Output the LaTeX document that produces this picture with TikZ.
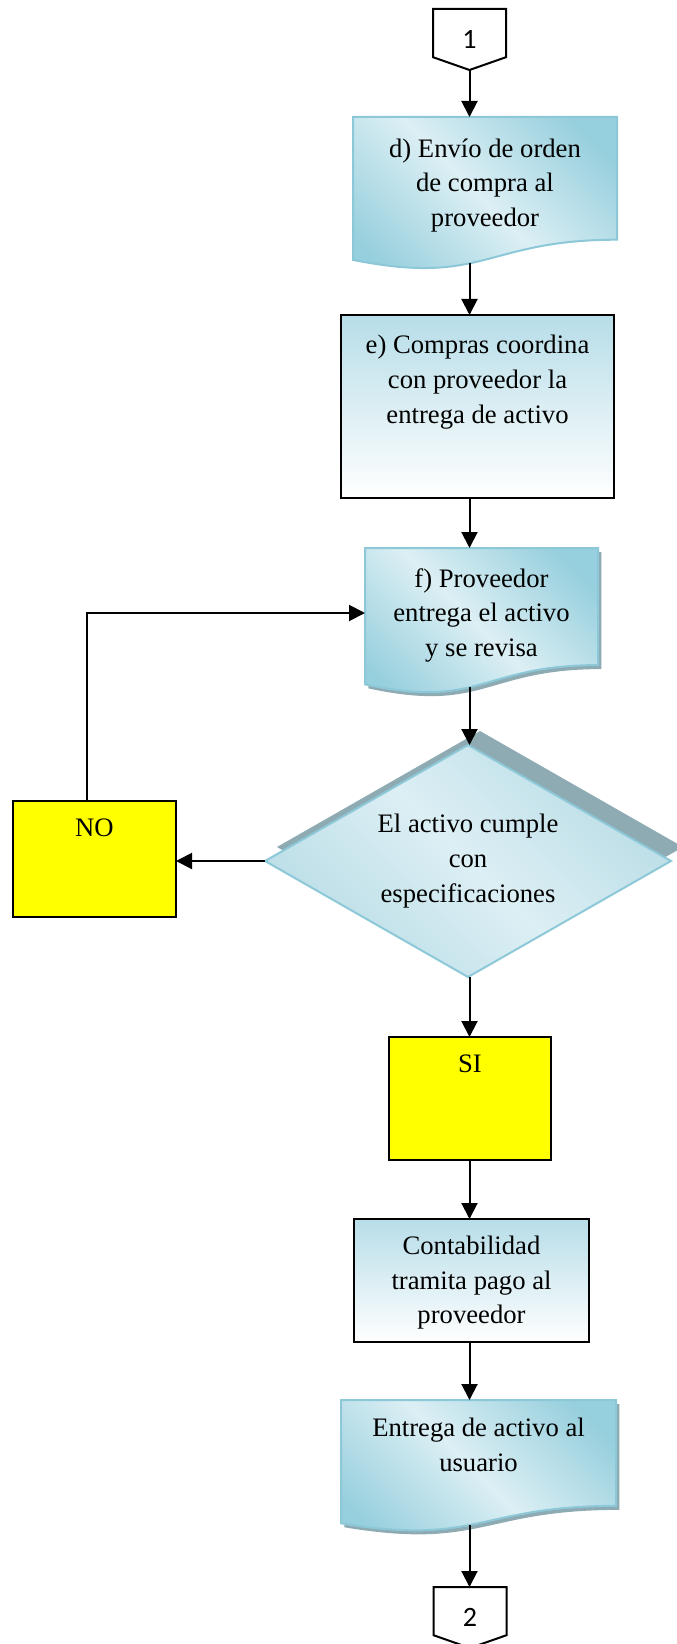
\documentclass[tikz,border=0pt]{standalone}
\usepackage{fontspec}
\setmainfont{Liberation Serif}
\newfontfamily\connfont{Carlito}
\usepackage{tikz}
\usetikzlibrary{positioning, calc, shapes.geometric, shadows, backgrounds}
\usetikzlibrary{arrows.meta}
\tikzset{>=Triangle}
\usepackage{xcolor}

\definecolor{aquadark}{RGB}{150,207,221}
\definecolor{aqualight}{RGB}{220,239,244}
\definecolor{aquaedge}{RGB}{140,200,216}
\definecolor{boxtop}{RGB}{183,221,232}
\definecolor{diadark}{RGB}{182,219,229}
\definecolor{shadowgrey}{RGB}{142,170,178}
\definecolor{ansyellow}{RGB}{255,255,0}

\pgfdeclarehorizontalshading{aquadiag}{100bp}{color(0bp)=(aquadark); color(22bp)=(aquadark); color(50bp)=(aqualight); color(78bp)=(aquadark); color(100bp)=(aquadark)}
\pgfdeclarehorizontalshading{diadiag}{100bp}{color(0bp)=(diadark); color(22bp)=(diadark); color(50bp)=(aqualight); color(78bp)=(diadark); color(100bp)=(diadark)}

\newdimen\pxu \pxu=0.75pt

\tikzset{
  txt/.style={align=center, inner sep=0pt, font=\fontsize{20}{26}\selectfont},
  flow/.style={-{Triangle[length=12pt,width=12pt]}, line width=1.5pt},
  fromdoc/.style={shorten <=-5pt},
  procbox/.style={draw=black, line width=1.5pt, top color=boxtop, bottom color=white, inner sep=0pt, outer sep=0pt},
  answer/.style={draw=black, line width=1.5pt, fill=ansyellow, inner sep=0pt, outer sep=0pt},
  docnode/.style={inner sep=0pt, outer sep=0pt},
  docbody/.style={draw=aquaedge, line width=1.5pt, shading=aquadiag, shading angle=45},
  docshadow/.style={drop shadow={shadow xshift=2.5pt, shadow yshift=-3pt, opacity=1, fill=shadowgrey}},
  decision/.style={diamond, aspect=1.75, draw=aquaedge, line width=1.5pt, shading=diadiag, shading angle=45,
    inner sep=0pt, outer sep=0pt, align=center, font=\fontsize{20}{26}\selectfont,
    drop shadow={shadow xshift=9pt, shadow yshift=10.5pt, opacity=1, fill=shadowgrey}},
  offpage/.style={inner sep=0pt, outer sep=0pt, font=\connfont\fontsize{21}{25}\selectfont},
  offline/.style={draw=black, line width=1.5pt, line join=miter},
}

% document symbol with wavy bottom around a node
\newcommand{\docshape}[2][]{%
  \path[docbody,#1] (#2.north west) -- (#2.north east)
    -- ($(#2.north east)!0.802!(#2.south east)$)
    .. controls ($(#2.north)!0.802!(#2.south)$) and ($(#2.north)!1.1075!(#2.south)$)
    .. ($(#2.north west)!0.934!(#2.south west)$) -- cycle;}
% off-page connector
\newcommand{\offshape}[1]{%
  \draw[offline] (#1.north west) -- (#1.north east) -- ($(#1.north east)!0.79!(#1.south east)$)
    -- (#1.south) -- ($(#1.north west)!0.79!(#1.south west)$) -- cycle;}

\begin{document}
\begin{tikzpicture}[x=0.75pt, y=-0.75pt]
\useasboundingbox (0,0) rectangle (676,1644);

\node[offpage, minimum width=73\pxu, minimum height=61\pxu] (c1) at (469.5,39.5) {1};
\node[docnode, minimum width=264\pxu, minimum height=153\pxu] (d) at (485,193.5) {};
\node[txt, below=16pt of d.north] (d-t) {d) Envío de orden\\de compra al\\proveedor};
\node[procbox, minimum width=273\pxu, minimum height=183\pxu] (e) at (477.5,406.5) {};
\node[txt, below=15pt of e.north] (e-t) {e) Compras coordina\\con proveedor la\\entrega de activo};
\node[docnode, minimum width=233\pxu, minimum height=146\pxu] (f) at (481.5,621) {};
\node[txt, below=15pt of f.north] (f-t) {f) Proveedor\\entrega el activo\\y se revisa};
\node[decision, minimum width=406\pxu, minimum height=232\pxu] (dec) at (468,861) {El activo cumple\\con\\especificaciones};
\node[answer, minimum width=163\pxu, minimum height=116\pxu] (no) at (94.5,859) {};
\node[txt, below=13.5pt of no.north] (no-t) {NO};
\node[answer, minimum width=162\pxu, minimum height=123\pxu] (si) at (470,1098.5) {};
\node[txt, below=13.5pt of si.north] (si-t) {SI};
\node[procbox, minimum width=235\pxu, minimum height=123\pxu] (pago) at (471.5,1280.5) {};
\node[txt, below=12.5pt of pago.north] (pago-t) {Contabilidad\\tramita pago al\\proveedor};
\node[docnode, minimum width=275\pxu, minimum height=132\pxu] (user) at (478.5,1466) {};
\node[txt, below=13.5pt of user.north] (user-t) {Entrega de activo al\\usuario};
\node[offpage, minimum width=73\pxu, minimum height=61\pxu] (c2) at (470,1617.5) {2};

\begin{scope}[on background layer]
  \offshape{c1}
  \docshape{d}
  \docshape[docshadow]{f}
  \docshape[docshadow]{user}
  \offshape{c2}
\end{scope}

% connectors
\draw[flow] (c1.south) -- (d.north -| c1.south);
\draw[flow, fromdoc] (d.south -| c1.south) -- (e.north -| c1.south);
\draw[flow] (e.south -| c1.south) -- (f.north -| c1.south);
\draw[flow, fromdoc] (f.south -| c1.south) -- (dec.north -| c1.south);
\draw[flow] (dec.west) -- (dec.west -| no.east);
\draw[flow] ([xshift=-5.6pt]no.north) |- ([yshift=6pt]f.west);
\draw[flow] (dec.south -| c1.south) -- (si.north -| c1.south);
\draw[flow] (si.south -| c1.south) -- (pago.north -| c1.south);
\draw[flow] (pago.south -| c1.south) -- (user.north -| c1.south);
\draw[flow, fromdoc] (user.south -| c1.south) -- (c2.north -| c1.south);
\end{tikzpicture}
\end{document}
